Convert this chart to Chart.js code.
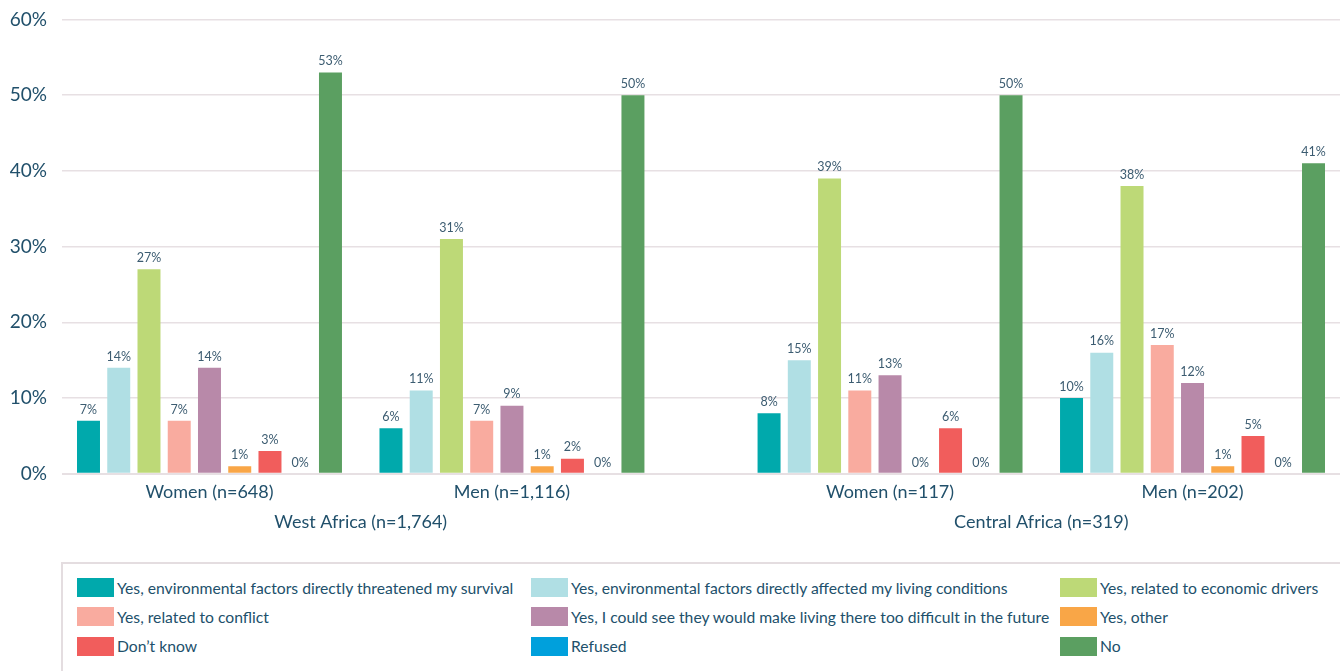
<!DOCTYPE html>
<html>
<head>
<meta charset="utf-8">
<script src="https://cdn.jsdelivr.net/npm/chart.js@4.4.1/dist/chart.umd.min.js"></script>
<style>
  html, body { margin: 0; padding: 0; background: #ffffff; }
  body { width: 1340px; height: 671px; overflow: hidden; position: relative; font-family: "Lato", "Noto Sans", sans-serif; }
  #wrap { position: absolute; left: 0; top: -7px; width: 1340px; height: 552px; }
  #legend {
    position: absolute; left: 61px; top: 562px; width: 1300px; height: 130px;
    border: 2px solid #e4dde0; box-sizing: border-box;
    display: grid; grid-template-columns: 454px 529px 1fr; grid-auto-rows: 29.3px;
    padding: 9px 0 0 14px;
  }
  .item { display: flex; align-items: center; color: #21506b; font-size: 15.7px; white-space: nowrap; }
  .swatch { width: 37px; height: 19px; margin-right: 3px; flex: none; }
</style>
</head>
<body>
<div id="wrap"><canvas id="migrationChart"></canvas></div>
<div id="legend"></div>

<script>
// Groups along the bottom axis
const groupLabels = ["Women (n=648)", "Men (n=1,116)", "Women (n=117)", "Men (n=202)"];
const regionLabels = ["West Africa (n=1,764)", "Central Africa (n=319)"];

// Answers, in legend order
const answerLabels = [
    "Yes, environmental factors directly threatened my survival",
    "Yes, environmental factors directly affected my living conditions",
    "Yes, related to economic drivers",
    "Yes, related to conflict",
    "Yes, I could see they would make living there too difficult in the future",
    "Yes, other",
    "Don\u2019t know",
    "Refused",
    "No"
];

// Percentages per group (W648, M1116, W117, M202)
const threatenedSurvival = [7, 6, 8, 10];
const livingConditions = [14, 11, 15, 16];
const economicDrivers = [27, 31, 39, 38];
const conflict = [7, 7, 11, 17];
const futureDifficult = [14, 9, 13, 12];
const otherReason = [1, 1, 0, 1];
const dontKnow = [3, 2, 6, 5];
const refused = [0, 0, 0, 0];
const noAnswer = [53, 50, 50, 41];

const yTicks = [0, 10, 20, 30, 40, 50, 60];

// layout: where each group sits on the x scale (regions are spaced wider apart)
const groupSlots = [0, 1, 2.25, 3.25];
const regionSlots = [0.5, 2.75];
const xMin = -0.4876;
const xMax = 3.7376;

const seriesValues = [threatenedSurvival, livingConditions, economicDrivers, conflict,
    futureDifficult, otherReason, dontKnow, refused, noAnswer];
const seriesColors = ["#00a9ac", "#b0dfe4", "#bdd977", "#f9ab9f", "#b889a9",
    "#f9a647", "#f15d5c", "#00a0dc", "#5b9f61"];

const textColor = "#21506b";
const gridColor = "#e7e0e3";

const datasets = seriesValues.map((values, i) => ({
    label: answerLabels[i],
    data: values.map((v, j) => ({ x: groupSlots[j], y: v })),
    backgroundColor: seriesColors[i],
    categoryPercentage: 0.9,
    barPercentage: 0.76
}));

// draws the value above every bar
const valueLabels = {
    id: "valueLabels",
    afterDatasetsDraw(chart) {
        const ctx = chart.ctx;
        ctx.save();
        ctx.font = "12.5px Lato, 'Noto Sans', sans-serif";
        ctx.fillStyle = "#3c5c71";
        ctx.textAlign = "center";
        ctx.textBaseline = "bottom";
        chart.data.datasets.forEach((ds, i) => {
            const meta = chart.getDatasetMeta(i);
            meta.data.forEach((bar, j) => {
                ctx.fillText(ds.data[j].y + "%", bar.x, bar.y - 5);
            });
        });
        ctx.restore();
    }
};

new Chart(document.getElementById("migrationChart"), {
    type: "bar",
    data: { datasets: datasets },
    plugins: [valueLabels],
    options: {
        responsive: true,
        maintainAspectRatio: false,
        animation: false,
        layout: { padding: { top: 5, right: 0, bottom: 12, left: 0 } },
        plugins: {
            legend: { display: false },
            tooltip: { enabled: false }
        },
        scales: {
            x: {
                type: "linear",
                position: "bottom",
                min: xMin,
                max: xMax,
                offset: false,
                grid: { display: false },
                border: { display: false },
                afterBuildTicks: (scale) => {
                    scale.ticks = groupSlots.map(v => ({ value: v }));
                },
                ticks: {
                    autoSkip: false,
                    maxRotation: 0,
                    padding: 0,
                    color: textColor,
                    font: { family: "Lato", size: 18 },
                    callback: (value, index) => groupLabels[index]
                }
            },
            region: {
                type: "linear",
                position: "bottom",
                min: xMin,
                max: xMax,
                offset: false,
                grid: { display: false },
                border: { display: false },
                afterBuildTicks: (scale) => {
                    scale.ticks = regionSlots.map(v => ({ value: v }));
                },
                ticks: {
                    autoSkip: false,
                    maxRotation: 0,
                    padding: 0,
                    color: textColor,
                    font: { family: "Lato", size: 18 },
                    callback: (value, index) => regionLabels[index]
                }
            },
            y: {
                min: 0,
                max: 60,
                afterBuildTicks: (scale) => {
                    scale.ticks = yTicks.map(v => ({ value: v }));
                },
                afterFit: (scale) => { scale.width = 62; },
                grid: {
                    color: gridColor,
                    lineWidth: (c) => c.tick.value === 0 ? 2 : 1.5,
                    drawTicks: false
                },
                border: { display: false },
                ticks: {
                    padding: 15,
                    color: textColor,
                    font: { family: "Lato", size: 19 },
                    callback: (value) => value + "%"
                }
            }
        }
    }
});

// legend built from the chart's datasets
const legend = document.getElementById("legend");
datasets.forEach(ds => {
    const item = document.createElement("div");
    item.className = "item";
    const box = document.createElement("span");
    box.className = "swatch";
    box.style.background = ds.backgroundColor;
    const txt = document.createElement("span");
    txt.textContent = ds.label;
    item.appendChild(box);
    item.appendChild(txt);
    legend.appendChild(item);
});
</script>
</body>
</html>
